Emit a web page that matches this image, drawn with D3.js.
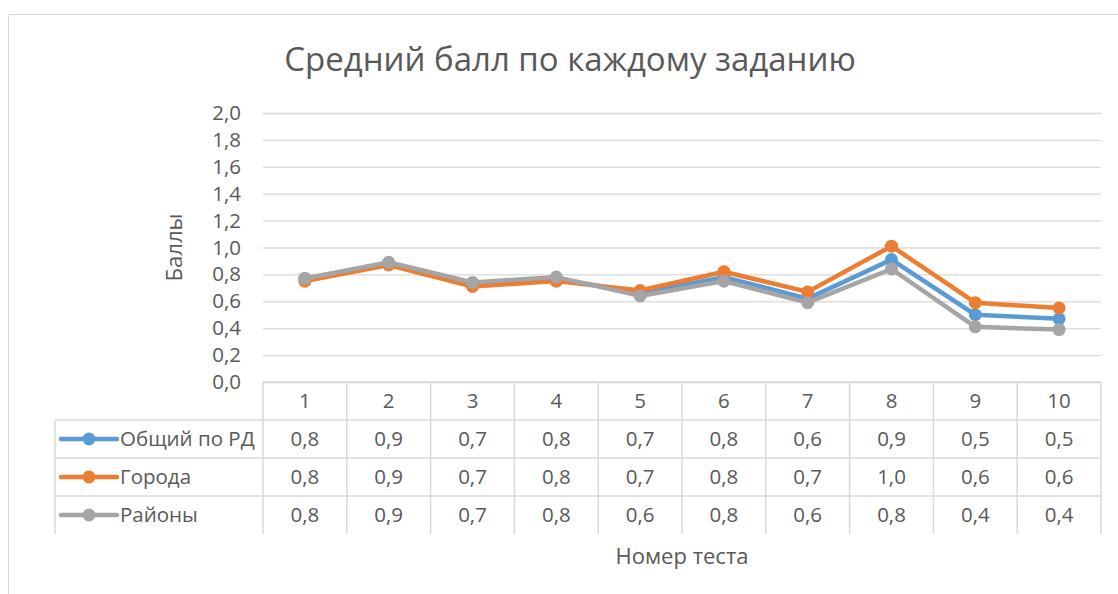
<!DOCTYPE html>
<html>
<head>
<meta charset="utf-8">
<script src="https://cdn.jsdelivr.net/npm/d3@7"></script>
<style>
    body { margin:0; background:#fff; }
    text { font-family: "Open Sans", Lato, sans-serif; fill:#595959; }
</style>
</head>
<body>
<div class="canvas" id="canvas"></div>
<script>
// ---- DATA ----
var tests = ['1','2','3','4','5','6','7','8','9','10'];
var seriesNames = ['Общий по РД','Города','Районы'];
var seriesColors = ['#5b9bd5','#ed7d31','#a5a5a5'];
var totalRD = [0.77, 0.88, 0.73, 0.77, 0.66, 0.78, 0.62, 0.91, 0.50, 0.47];
var cities = [0.75, 0.87, 0.71, 0.75, 0.68, 0.82, 0.67, 1.01, 0.59, 0.55];
var districts = [0.77, 0.89, 0.74, 0.78, 0.64, 0.75, 0.59, 0.84, 0.41, 0.39];
var yTicks = [0, 0.2, 0.4, 0.6, 0.8, 1.0, 1.2, 1.4, 1.6, 1.8, 2.0];

var series = [totalRD, cities, districts];


// ---- CONVENTIONS ---- -------------------------------------------------------------------
var outerWidth = 1118,
    outerHeight = 594;

var plotLeft = 263, plotRight = 1101,
    plotTop = 113, plotBottom = 382;

var rowH = 38;
var legendLeft = 55;
var labelSize = '20.5px';

var fmt = function(v){ return d3.format('.1f')(v).replace('.', ','); };

var svg = d3.select('.canvas')
    .append('svg')
    .attr('width',outerWidth)
    .attr('height',outerHeight);

// chart frame
svg.append('path')
    .attr('d','M8.5,' + outerHeight + ' V14.5 H' + outerWidth)
    .style('fill','none')
    .style('stroke','#d9d9d9')
    .style('stroke-width',1);


// ---- SCALES ----------------------------------------------------------------------------
var scaleX = d3.scaleBand()
    .domain(tests)
    .range([plotLeft, plotRight]);

var scaleY = d3.scaleLinear()
    .domain([0,2])
    .range([plotBottom, plotTop]);


//---- AXES ------------------------------------------------------------------------------
var axisY = d3.axisLeft()
    .scale(scaleY)
    .tickValues(yTicks)
    .tickSize(-(plotRight - plotLeft))
    .tickPadding(22)
    .tickFormat(fmt);

var gy = svg.append('g').attr('class','axis axis-y')
    .attr('transform','translate(' + plotLeft + ',0)')
    .call(axisY);
gy.select('.domain').remove();
gy.selectAll('line').style('stroke','#d9d9d9').style('stroke-width',1.3);
gy.selectAll('text')
    .style('font-family','"Open Sans", Lato, sans-serif')
    .style('font-size',labelSize)
    .style('fill','#595959');

// title
svg.append('text')
    .attr('x',570)
    .attr('y',71)
    .attr('text-anchor','middle')
    .style('font-size','33px')
    .text('Средний балл по каждому заданию');

// axis titles
svg.append('text')
    .attr('transform','translate(182,' + ((plotTop + plotBottom) / 2) + ') rotate(-90)')
    .attr('text-anchor','middle')
    .style('font-size','22px')
    .text('Баллы');

svg.append('text')
    .attr('x',(plotLeft + plotRight) / 2)
    .attr('y',564)
    .attr('text-anchor','middle')
    .style('font-size','22px')
    .text('Номер теста');


//---- GENERATORS ------------------------------------------------------------------------
var lineGenerator = d3.line()
    .x(function(d, i){ return scaleX(tests[i]) + scaleX.bandwidth() / 2; })
    .y(function(d){ return scaleY(d); });

series.forEach(function(values, s){
    svg.append('path')
        .datum(values)
        .attr('d', lineGenerator)
        .style('fill','none')
        .style('stroke',seriesColors[s])
        .style('stroke-width',4.5)
        .style('stroke-linejoin','round');

    svg.selectAll('.dot-' + s)
        .data(values)
        .enter()
        .append('circle')
        .attr('class','dot-' + s)
        .attr('cx',function(d, i){ return scaleX(tests[i]) + scaleX.bandwidth() / 2; })
        .attr('cy',function(d){ return scaleY(d); })
        .attr('r',6.5)
        .style('fill',seriesColors[s]);
});


// ---- DATA TABLE -------------------------------------------------------------------------
var table = svg.append('g').attr('class','data-table');
var gridColor = '#d9d9d9';

function hline(x1, x2, y){
    table.append('line').attr('x1',x1).attr('x2',x2).attr('y1',y).attr('y2',y)
        .style('stroke',gridColor).style('stroke-width',1.5);
}
function vline(x, y1, y2){
    table.append('line').attr('x1',x).attr('x2',x).attr('y1',y1).attr('y2',y2)
        .style('stroke',gridColor).style('stroke-width',1.5);
}

var tableBottom = plotBottom + rowH * (series.length + 1);

// horizontal borders
hline(plotLeft, plotRight, plotBottom);
for (var r = 1; r <= series.length; r++) {
    hline(legendLeft, plotRight, plotBottom + rowH * r);
}
// vertical borders
vline(legendLeft, plotBottom + rowH, tableBottom);
vline(plotLeft, plotBottom, tableBottom);
tests.forEach(function(t){
    vline(scaleX(t) + scaleX.bandwidth(), plotBottom, tableBottom);
});

// header labels
table.selectAll('.head')
    .data(tests)
    .enter()
    .append('text')
    .attr('class','head')
    .attr('x',function(d){ return scaleX(d) + scaleX.bandwidth() / 2; })
    .attr('y',plotBottom + rowH / 2)
    .attr('dy','0.35em')
    .attr('text-anchor','middle')
    .style('font-size',labelSize)
    .text(function(d){ return d; });

// rows
series.forEach(function(values, s){
    var cy = plotBottom + rowH * (s + 1) + rowH / 2;

    table.append('line')
        .attr('x1',legendLeft + 6).attr('x2',legendLeft + 62)
        .attr('y1',cy).attr('y2',cy)
        .style('stroke',seriesColors[s])
        .style('stroke-width',4.5)
        .style('stroke-linecap','round');
    table.append('circle')
        .attr('cx',legendLeft + 34).attr('cy',cy).attr('r',6.5)
        .style('fill',seriesColors[s]);
    table.append('text')
        .attr('x',legendLeft + 65)
        .attr('y',cy)
        .attr('dy','0.35em')
        .style('font-size',labelSize)
        .text(seriesNames[s]);

    table.selectAll('.val-' + s)
        .data(values)
        .enter()
        .append('text')
        .attr('class','val-' + s)
        .attr('x',function(d, i){ return scaleX(tests[i]) + scaleX.bandwidth() / 2; })
        .attr('y',cy)
        .attr('dy','0.35em')
        .attr('text-anchor','middle')
        .style('font-size',labelSize)
        .text(function(d){ return fmt(d); });
});
</script>
</body>
</html>
